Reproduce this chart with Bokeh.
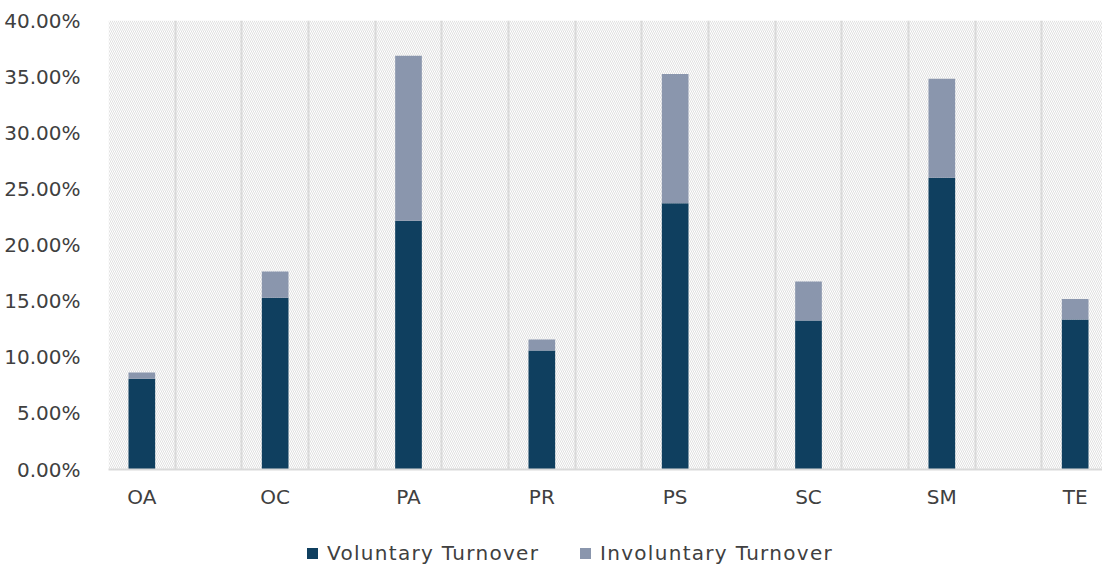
from bokeh.plotting import figure
from bokeh.models import (ColumnDataSource, FixedTicker, NumeralTickFormatter, Grid,
                          BoxAnnotation, Range1d, Div)
from bokeh.layouts import column
from bokeh.embed import file_html
from bokeh.resources import INLINE

categories = ["OA", "OC", "PA", "PR", "PS", "SC", "SM", "TE"]
voluntary = [0.0808, 0.1530, 0.2217, 0.1060, 0.2371, 0.1327, 0.2600, 0.1336]
total = [0.0864, 0.1763, 0.3687, 0.1158, 0.3523, 0.1674, 0.3480, 0.1520]
involuntary = [t - v for t, v in zip(total, voluntary)]
y_ticks = [0.0, 0.05, 0.10, 0.15, 0.20, 0.25, 0.30, 0.35, 0.40]
series_names = ["Voluntary Turnover", "Involuntary Turnover"]
series_colors = ["#0F3F5F", "#8A96AD"]

xpos = [i + 0.25 for i in range(len(categories))]
src = ColumnDataSource(dict(x=xpos, cat=categories, Voluntary=voluntary, Involuntary=involuntary))

FONT = "DejaVu Sans"
TXT = "#404040"
GRID = "#D9D9D9"

p = figure(frame_width=994, frame_height=449, output_backend="svg", toolbar_location=None,
           x_range=Range1d(0, 7.455), y_range=Range1d(0, 0.40),
           min_border_left=108, min_border_top=20, min_border_right=0, min_border_bottom=41)
p.outline_line_color = None
p.background_fill_color = "white"

# hatched plot background
p.add_layout(BoxAnnotation(fill_color="white", fill_alpha=1.0, line_color=None,
                           hatch_pattern="left_diagonal_line", hatch_color="#E0E0E0",
                           hatch_scale=4, hatch_weight=1, level="underlay"))

renderers = p.vbar_stack(["Voluntary", "Involuntary"], x="x", width=0.2, source=src,
                         color=series_colors, line_color=None)

# axes
p.xaxis.ticker = FixedTicker(ticks=xpos)
p.xaxis.major_label_overrides = {x: c for x, c in zip(xpos, categories)}
p.xaxis.axis_line_color = GRID
p.xaxis.axis_line_width = 2
p.xaxis.major_tick_line_color = None
p.xaxis.minor_tick_line_color = None
p.xaxis.major_tick_out = 0
p.xaxis.major_tick_in = 0
p.xaxis.major_label_text_font = FONT
p.xaxis.major_label_text_font_size = "20px"
p.xaxis.major_label_text_color = TXT
p.xaxis.major_label_standoff = 15

p.yaxis.ticker = FixedTicker(ticks=y_ticks)
p.yaxis.formatter = NumeralTickFormatter(format="0.00%")
p.yaxis.axis_line_color = None
p.yaxis.major_tick_line_color = None
p.yaxis.minor_tick_line_color = None
p.yaxis.major_label_text_font = FONT
p.yaxis.major_label_text_font_size = "20px"
p.yaxis.major_label_text_color = TXT
p.yaxis.major_label_standoff = 22

# grids
p.xgrid.visible = False
p.ygrid.ticker = FixedTicker(ticks=y_ticks)
p.ygrid.grid_line_color = GRID
p.ygrid.grid_line_width = 2
vg = Grid(dimension=0, ticker=FixedTicker(ticks=[i * 0.5 for i in range(16)]),
          grid_line_color=GRID, grid_line_width=2)
p.add_layout(vg)

# legend row below the chart
sq_left = [307, 580]
html = ""
for name, col, left in zip(series_names, series_colors, sq_left):
    html += (f'<span style="position:absolute;left:{left}px;top:37px;width:11px;height:11px;'
             f'background:{col};"></span>'
             f'<span style="position:absolute;left:{left + 20}px;top:30px;line-height:24px;'
             f'white-space:nowrap;letter-spacing:1.3px;">{name}</span>')
div = Div(text=f'<div style="position:relative;width:1102px;height:57px;">{html}</div>',
          width=1102, height=57, margin=0,
          styles={"font-family": FONT, "font-size": "20px", "color": TXT})

layout = column(p, div, spacing=0)
open("out.html", "w").write(file_html(layout, INLINE))
